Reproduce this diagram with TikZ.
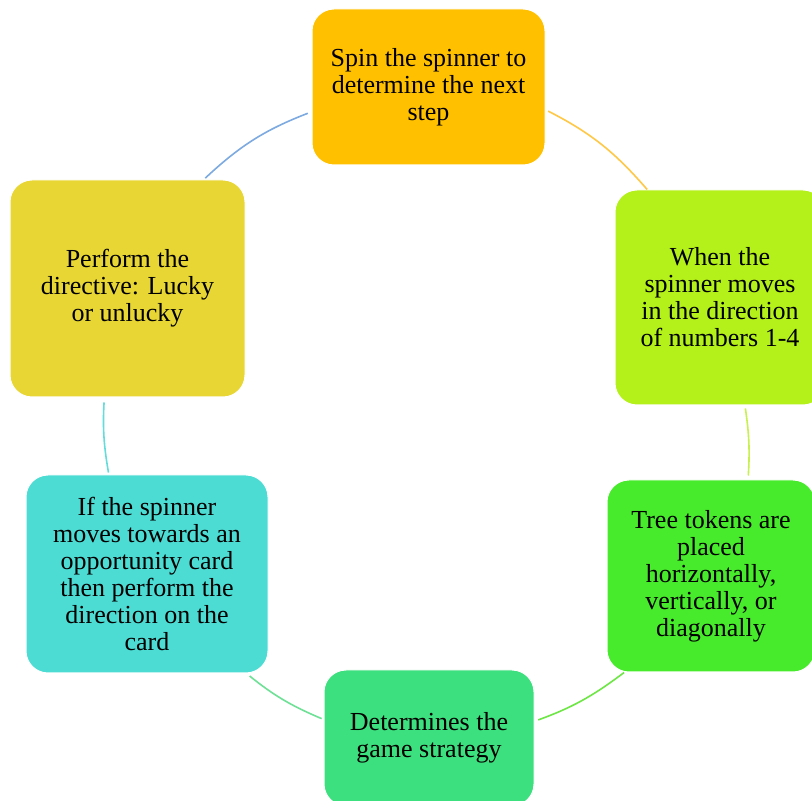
\documentclass[tikz,border=0pt]{standalone}
\usepackage{fontspec}
\setmainfont{Liberation Serif}
\usepackage{tikz}
\definecolor{spinc}{RGB}{255,192,0}
\definecolor{whenc}{RGB}{180,240,26}
\definecolor{treec}{RGB}{72,234,44}
\definecolor{gamec}{RGB}{61,224,126}
\definecolor{cardc}{RGB}{76,220,212}
\definecolor{luckc}{RGB}{232,214,52}
\definecolor{ringa}{RGB}{255,200,70}
\definecolor{ringb}{RGB}{200,240,80}
\definecolor{ringc}{RGB}{110,230,70}
\definecolor{ringd}{RGB}{110,225,150}
\definecolor{ringe}{RGB}{100,220,220}
\definecolor{ringf}{RGB}{125,170,225}
\tikzset{box/.style={rectangle, rounded corners=22pt, draw=white, line width=1pt, inner sep=0pt, align=center, font=\fontsize{26}{27}\selectfont},ring/.style={line width=1.6pt}}

\begin{document}
\begin{tikzpicture}[x=1pt, y=1pt]
\path[use as bounding box, fill=white] (0,0) rectangle (812,801);
\node[box, fill=spinc, minimum width=233pt, minimum height=156pt] (spin) at (428.5,714) {Spin the spinner to\\determine the next\\step};
\node[box, fill=whenc, minimum width=210pt, minimum height=215pt] (when) at (720,503.5) {When the\\spinner moves\\in the direction\\of numbers 1-4};
\node[box, fill=treec, minimum width=208pt, minimum height=192pt] (tree) at (711,225) {Tree tokens are\\placed\\horizontally,\\vertically, or\\diagonally};
\node[box, fill=gamec, minimum width=210pt, minimum height=136pt] (game) at (429,63) {Determines the\\game strategy};
\node[box, fill=cardc, minimum width=242pt, minimum height=198pt] (card) at (147,227) {If the spinner\\moves towards an\\opportunity card\\then perform the\\direction on the\\card};
\node[box, fill=luckc, minimum width=235pt, minimum height=217pt] (luck) at (127.5,512.5) {Perform the\\directive: Lucky\\or unlucky};
\draw[ring] (spin.-11.2) edge[bend left=11, draw=ringa, shorten <=3pt] (when.124.2)
 (when.-77.9) edge[bend left=6, draw=ringb, shorten <=3pt, shorten >=4pt] (tree.69.1)
 (tree.-132.2) edge[bend left=8.5, draw=ringc, shorten >=4pt] (game.9.7)
 (game.170.3) edge[bend left=8, draw=ringd, shorten <=2pt, shorten >=4pt] (card.-45.9)
 (card.111.5) edge[bend left=6.5, draw=ringe, shorten <=2pt, shorten >=5pt] (luck.-102.7)
 (luck.55.2) edge[bend left=11, draw=ringf, shorten <=2pt, shorten >=4pt] (spin.-168.4);
\end{tikzpicture}
\end{document}
